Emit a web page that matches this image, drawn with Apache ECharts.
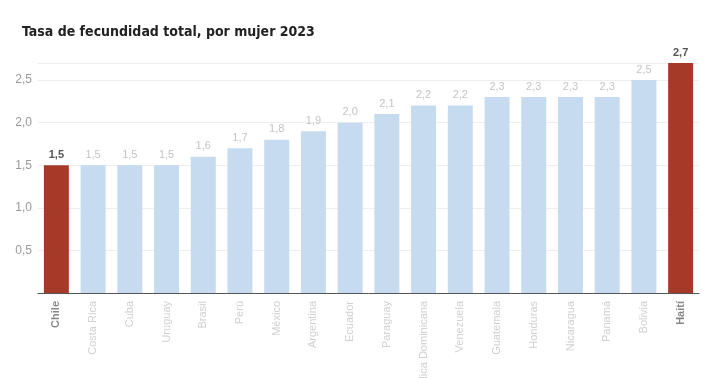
<!DOCTYPE html>
<html><head><meta charset="utf-8">
<script src="https://cdn.jsdelivr.net/npm/echarts@6/dist/echarts.min.js"></script>
<style>html,body{margin:0;padding:0;background:#fff}#c{width:720px;height:378px}</style>
</head><body><div id="c"></div>
<script>
const categories = ["Chile","Costa Rica","Cuba","Uruguay","Brasil","Perú","México","Argentina","Ecuador","Paraguay","República Dominicana","Venezuela","Guatemala","Honduras","Nicaragua","Panamá","Bolivia","Haití"];
const values = [1.5,1.5,1.5,1.5,1.6,1.7,1.8,1.9,2.0,2.1,2.2,2.2,2.3,2.3,2.3,2.3,2.5,2.7];
const highlighted = ["Chile","Haití"];
const yTicks = [0,0.5,1.0,1.5,2.0,2.5];

const RED = '#a63a28', BLUE = '#c6daf0';
const fmt = v => v.toFixed(1).replace('.', ',');
const chart = echarts.init(document.getElementById('c'));
chart.setOption({
  animation:false,
  title:{text:'Tasa de fecundidad total, por mujer 2023',left:17,top:20,
    textStyle:{fontFamily:'DejaVu Sans Condensed',fontWeight:'bold',fontSize:14,color:'#222'}},
  grid:{left:38,right:21,top:63,bottom:85,outerBoundsMode:'none',containLabel:false},
  xAxis:{type:'category',data:categories,
    axisLine:{lineStyle:{color:'#555',width:1}},
    axisTick:{alignWithLabel:true,length:4,lineStyle:{color:'#555'}},
    axisLabel:{rotate:90,interval:0,margin:8,fontFamily:'Liberation Sans',fontSize:11,
      formatter:(v)=> highlighted.includes(v)?'{b|'+v+'}':'{n|'+v+'}',
      rich:{b:{fontWeight:'bold',color:'#888',fontSize:11,fontFamily:'Liberation Sans'},n:{color:'#d0d0d0',fontSize:11,fontFamily:'Liberation Sans'}}}},
  yAxis:{type:'value',min:0,max:2.7,interval:0.5,
    axisLine:{show:false},axisTick:{show:false},
    splitLine:{lineStyle:{color:'#eeeeee'}},
    axisLabel:{color:'#999',fontSize:12,fontFamily:'Liberation Sans',margin:6,
      formatter:v=> v===0||v>2.6?'':fmt(v)}},
  series:[{type:'bar',barWidth:'68%',
    data:values.map((v,i)=>({value:v,
      itemStyle:{color:highlighted.includes(categories[i])?RED:BLUE},
      label:{color:highlighted.includes(categories[i])?'#555':'#c4c4c4',fontWeight:highlighted.includes(categories[i])?'bold':'normal'}})),
    label:{show:true,position:'top',distance:5,fontSize:11,fontFamily:'Liberation Sans',formatter:p=>fmt(p.value)}}]
});
</script></body></html>
